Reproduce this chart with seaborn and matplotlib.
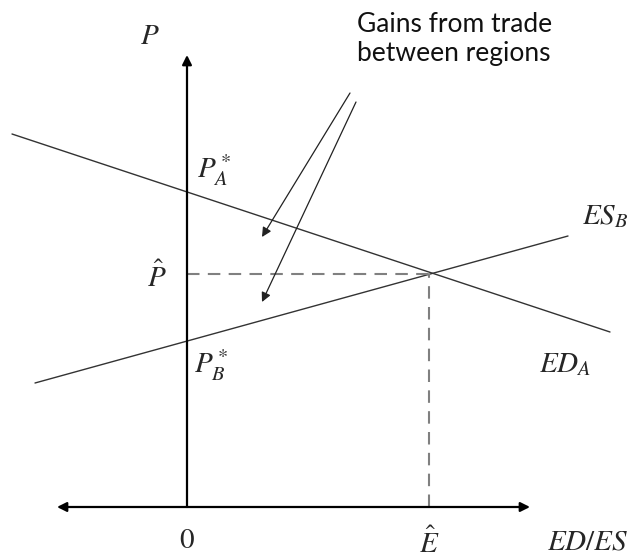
import matplotlib
matplotlib.use("Agg")
import matplotlib.pyplot as plt
import seaborn as sns
import numpy as np

sns.set_theme(style="white")
plt.rcParams["mathtext.fontset"] = "stix"
plt.rcParams["font.family"] = ["Lato", "DejaVu Sans"]

# Excess demand of region A and excess supply of region B (quantity, price)
ed_q = [-175, 423]
ed_p = [373, 175]
es_q = [-152, 381]
es_p = [124, 271]

# Equilibrium traded quantity and price
e_hat = 242
p_hat = 233

# Axis extents
q_min, q_max = -130, 343
p_max = 452

# Callout arrows: start points and targets
arrow_start_q = [163, 169]
arrow_start_p = [414, 405]
arrow_end_q = [75, 75]
arrow_end_p = [270, 205]

fig = plt.figure(figsize=(6.34, 5.58), dpi=100)
ax = fig.add_axes([0, 0, 1, 1])
ax.set_xlim(-187, 447)
ax.set_ylim(-51, 507)
ax.axis("off")

curve_color = "#333333"
sns.lineplot(x=ed_q, y=ed_p, ax=ax, color=curve_color, lw=1.0,
             sort=False, estimator=None)
sns.lineplot(x=es_q, y=es_p, ax=ax, color=curve_color, lw=1.0,
             sort=False, estimator=None)

# Dashed guides to the equilibrium
dash = dict(color="#808080", lw=1.5, ls=(0, (6, 4)))
sns.lineplot(x=[0, e_hat], y=[p_hat, p_hat], ax=ax, sort=False,
             estimator=None, **dash)
sns.lineplot(x=[e_hat, e_hat], y=[0, p_hat], ax=ax, sort=False,
             estimator=None, orient="y", **dash)

# Axes with arrowheads
ax.annotate("", xy=(q_max, 0), xytext=(q_min, 0),
            arrowprops=dict(arrowstyle="<|-|>", lw=1.6, color="black",
                            mutation_scale=14, shrinkA=0, shrinkB=0))
ax.annotate("", xy=(0, p_max), xytext=(0, 0),
            arrowprops=dict(arrowstyle="-|>", lw=1.6, color="black",
                            mutation_scale=14, shrinkA=0, shrinkB=0))

# Gains-from-trade callout arrows
for sq, sp, eq, ep in zip(arrow_start_q, arrow_start_p, arrow_end_q, arrow_end_p):
    ax.annotate("", xy=(eq, ep), xytext=(sq, sp),
                arrowprops=dict(arrowstyle="-|>", lw=0.9, color="#222222",
                                mutation_scale=14, shrinkA=0, shrinkB=0))

ax.text(170, 468, "Gains from trade\nbetween regions", fontsize=19,
        ha="left", va="center", linespacing=1.25, color="#111111")

mfs = 21
ax.text(-37, 471, r"$P$", fontsize=mfs, ha="center", va="center")
ax.text(27, 337, r"$P_A^*$", fontsize=mfs, ha="center", va="center")
ax.text(-30, 231, r"$\hat{P}$", fontsize=mfs, ha="center", va="center")
ax.text(24, 142, r"$P_B^*$", fontsize=mfs, ha="center", va="center")
ax.text(418, 290, r"$ES_B$", fontsize=mfs, ha="center", va="center")
ax.text(378, 142, r"$ED_A$", fontsize=mfs, ha="center", va="center")
ax.text(0, -33, r"$0$", fontsize=mfs, ha="center", va="center")
ax.text(e_hat, -35, r"$\hat{E}$", fontsize=mfs, ha="center", va="center")
ax.text(401, -35, r"$ED/ES$", fontsize=mfs, ha="center", va="center")

fig.savefig("out.png", dpi=100)
